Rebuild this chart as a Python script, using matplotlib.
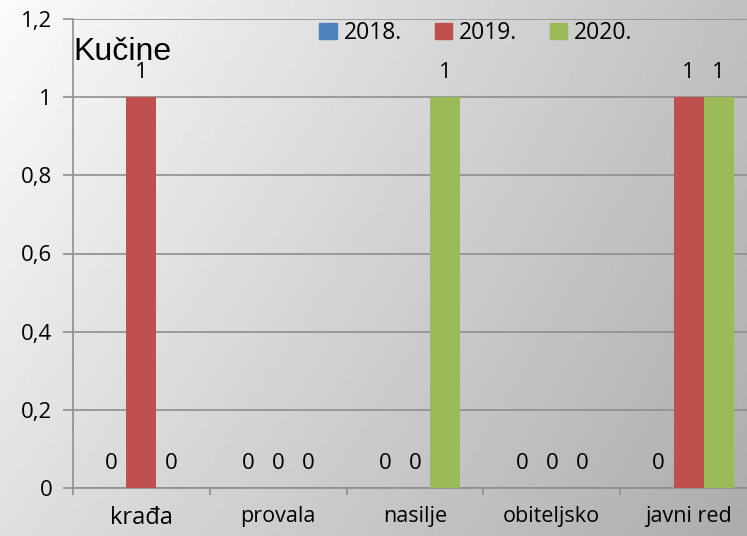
import numpy as np
import matplotlib
matplotlib.use('Agg')
import matplotlib.pyplot as plt
from matplotlib.patches import Patch

# podaci
kategorije = ['krađa', 'provala', 'nasilje', 'obiteljsko', 'javni red']
godine = ['2018.', '2019.', '2020.']
v2018 = [0, 0, 0, 0, 0]
v2019 = [1, 0, 0, 0, 1]
v2020 = [0, 0, 1, 0, 1]
boje = ['#4F81BD', '#C0504D', '#9BBB59']
yticks = [0, 0.2, 0.4, 0.6, 0.8, 1, 1.2]
ytick_labels = ['0', '0,2', '0,4', '0,6', '0,8', '1', '1,2']

plt.rcParams['font.family'] = ['Open Sans', 'DejaVu Sans']

fig = plt.figure(figsize=(7.47, 5.36), dpi=100)

# pozadina s gradijentom
bg = fig.add_axes([0, 0, 1, 1], zorder=-10)
xx, yy = np.meshgrid(np.linspace(0, 1, 300), np.linspace(0, 1, 220))
grad = 0.985 - 0.23 * xx - 0.11 * yy + 0.03 * xx * yy
bg.imshow(grad, cmap='gray', vmin=0, vmax=1, aspect='auto',
          extent=[0, 1, 0, 1], origin='upper')
bg.set_axis_off()

ax = fig.add_axes([73 / 747, 48 / 536, 684 / 747, 469 / 536])
ax.set_facecolor('none')

x = np.arange(len(kategorije))
w = 0.219
serije = [v2018, v2019, v2020]
for i, vals in enumerate(serije):
    pos = x + (i - 1) * w
    ax.bar(pos, vals, width=w, color=boje[i], zorder=3)
    for px, v in zip(pos, vals):
        ax.annotate(str(v), (px, v), xytext=(0, 17.5), textcoords='offset points',
                    ha='center', va='center', fontsize=16, color='black')

ax.set_xlim(-0.5, len(kategorije) - 0.5)
ax.set_ylim(0, 1.2)
ax.set_yticks(yticks)
ax.set_yticklabels(ytick_labels, fontsize=16)
ax.yaxis.grid(True, color='#8e8e8e', linewidth=1.2, zorder=0)
ax.tick_params(axis='y', direction='out', length=7, color='#8e8e8e', width=1.2, pad=8)

ax.set_xticks(x)
ax.set_xticklabels(kategorije)
ax.set_xticks(np.arange(-0.5, len(kategorije) + 0.5, 1), minor=True)
ax.tick_params(axis='x', which='major', length=0, pad=13)
ax.tick_params(axis='x', which='minor', direction='out', length=5, color='#8e8e8e', width=1.2)
for i, lbl in enumerate(ax.get_xticklabels()):
    lbl.set_fontsize(17 if i == 0 else 15.5)

for s in ['top', 'right']:
    ax.spines[s].set_visible(False)
for s in ['left', 'bottom']:
    ax.spines[s].set_color('#8e8e8e')
    ax.spines[s].set_linewidth(1.2)

ax.text(0.0, 0.913, 'Kučine', transform=ax.transAxes, fontsize=23,
        family='Liberation Sans', va='baseline', ha='left')

handles = [Patch(color=c) for c in boje]
fig.legend(handles, godine, loc='center', bbox_to_anchor=(476 / 747, 503 / 536),
           ncol=3, frameon=False, fontsize=16.5, handlelength=0.75, handleheight=0.75,
           handletextpad=0.3, columnspacing=1.45)

fig.savefig('out.png', dpi=100)
